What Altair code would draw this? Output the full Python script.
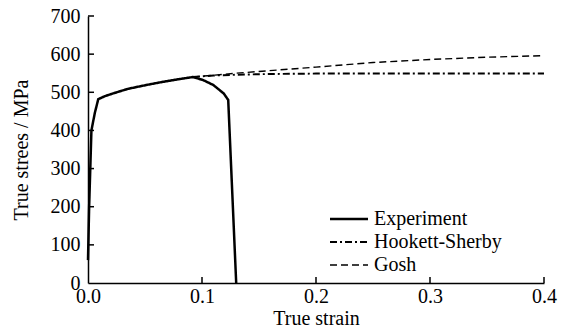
import altair as alt
import pandas as pd

series = ["Experiment", "Hookett-Sherby", "Gosh"]

exp_strain = [0.0, 0.001, 0.003, 0.006, 0.009, 0.015, 0.022, 0.035, 0.051, 0.065, 0.081, 0.092, 0.101, 0.110, 0.119, 0.123, 0.130]
exp_stress = [60, 200, 400, 446, 482, 490, 497, 509, 519, 527, 535, 540, 532, 519, 497, 480, 0]

hs_strain = [0.092, 0.11, 0.13, 0.16, 0.2, 0.25, 0.3, 0.35, 0.4]
hs_stress = [540, 544, 546, 548, 549, 549, 549, 549, 549]

gosh_strain = [0.092, 0.13, 0.2, 0.25, 0.3, 0.35, 0.4]
gosh_stress = [540, 550, 566, 578, 586, 592, 596]

x_ticks = [0.0, 0.1, 0.2, 0.3, 0.4]
y_ticks = [0, 100, 200, 300, 400, 500, 600, 700]

rows = []
for name, xs, ys in [(series[0], exp_strain, exp_stress),
                     (series[1], hs_strain, hs_stress),
                     (series[2], gosh_strain, gosh_stress)]:
    for i, (a, b) in enumerate(zip(xs, ys)):
        rows.append({"series": name, "strain": a, "stress": b, "idx": i})
df = pd.DataFrame(rows)

FONT = "Liberation Serif"

leg = alt.Legend(
    orient="none", legendX=251, legendY=193, title=None,
    symbolType="M-4,0L4,0", symbolSize=90.25, symbolStrokeColor="black",
    symbolFillColor="transparent",
    labelFont=FONT, labelFontSize=20, labelColor="black", labelOffset=15,
    rowPadding=3, padding=0,
)

axis_common = dict(labelFont=FONT, labelFontSize=20, labelColor="black",
                   titleFont=FONT, titleFontSize=20, titleFontWeight="normal", titleColor="black",
                   labelOverlap=False, labelFlush=False, ticks=False, grid=False,
                   domainColor="black", domainWidth=1.5)

x_axis = alt.Axis(values=x_ticks, format=".1f", title="True strain",
                  labelPadding=3, titlePadding=2, **axis_common)
y_axis = alt.Axis(values=y_ticks, title="True strees / MPa",
                  labelPadding=8, titlePadding=19, **axis_common)
x_scale = alt.Scale(domain=[0, 0.4], nice=False)
y_scale = alt.Scale(domain=[0, 700], nice=False)

lines = alt.Chart(df).mark_line().encode(
    x=alt.X("strain:Q", scale=x_scale, axis=x_axis),
    y=alt.Y("stress:Q", scale=y_scale, axis=y_axis),
    color=alt.Color("series:N", scale=alt.Scale(domain=series, range=["black", "black", "black"]), legend=leg),
    strokeDash=alt.StrokeDash("series:N", scale=alt.Scale(domain=series, range=[[1, 0], [7, 3, 2, 3], [7, 4]]), legend=leg),
    strokeWidth=alt.StrokeWidth("series:N", scale=alt.Scale(domain=series, range=[2.5, 1.4, 1.4]), legend=leg),
    order="idx:Q",
)

xt = alt.Chart(pd.DataFrame({"strain": x_ticks[1:]})).mark_rule(color="black", strokeWidth=1.5).encode(
    x=alt.X("strain:Q", scale=x_scale, axis=x_axis), y=alt.value(267), y2=alt.value(261)
)
yt = alt.Chart(pd.DataFrame({"stress": y_ticks[1:]})).mark_rule(color="black", strokeWidth=1.5).encode(
    y=alt.Y("stress:Q", scale=y_scale, axis=y_axis), x=alt.value(0), x2=alt.value(6)
)

chart = alt.layer(lines, xt, yt).properties(
    width=456, height=267, autosize="none",
    padding={"left": 88, "top": 16, "right": 26, "bottom": 47},
).configure_view(stroke=None)

chart.save("out.html", embed_options={"renderer": "svg", "actions": False})
